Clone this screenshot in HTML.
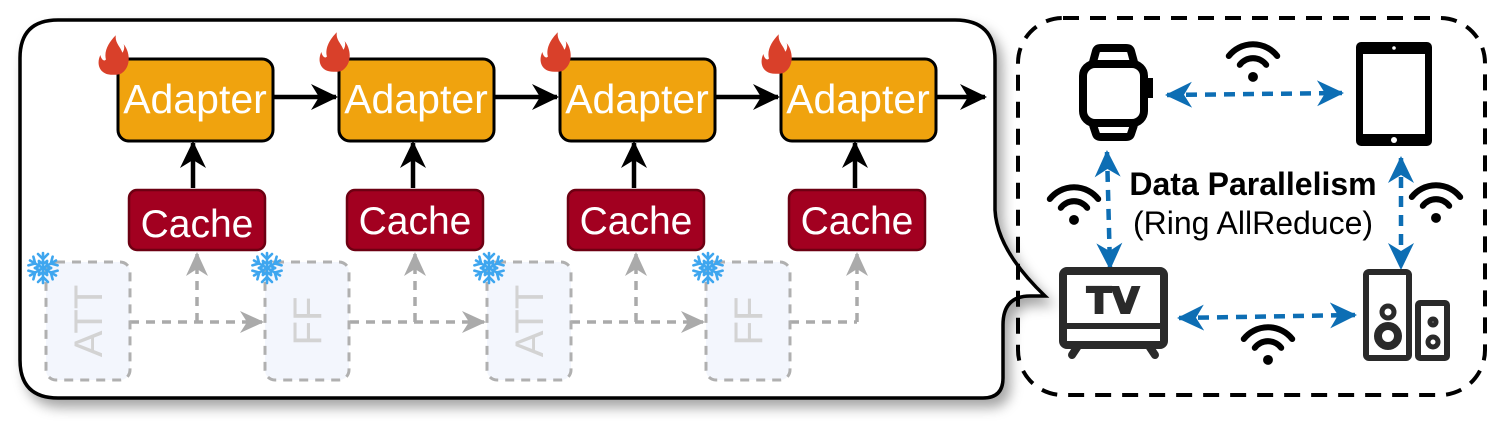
<!DOCTYPE html>
<html><head><meta charset="utf-8"><style>
html,body{margin:0;padding:0;background:#fff}
svg{display:block}
</style></head><body>
<svg width="1495" height="438" viewBox="0 0 1495 438" xmlns="http://www.w3.org/2000/svg" font-family="Liberation Sans, sans-serif">
<defs>
<filter id="sh" x="-5%" y="-5%" width="115%" height="120%"><feDropShadow dx="6" dy="8" stdDeviation="6" flood-color="#000" flood-opacity="0.35"/></filter>
<marker id="ag" markerWidth="26" markerHeight="26" refX="22" refY="13" orient="auto" markerUnits="userSpaceOnUse"><path d="M0,2 L24,13 L0,24 L7,13 Z" fill="#aaa"/></marker>
<marker id="ak" markerWidth="30" markerHeight="30" refX="25" refY="15" orient="auto" markerUnits="userSpaceOnUse"><path d="M0,2 L27,15 L0,28 L8,15 Z" fill="#000"/></marker>
<marker id="au" markerWidth="30" markerHeight="30" refX="25" refY="15" orient="auto-start-reverse" markerUnits="userSpaceOnUse"><path d="M0,2 L27,15 L0,28 L8,15 Z" fill="#0d6eb4"/></marker>
<g id="flame"><path d="M15,38 C3,38 0,28 4,20 C5,25 8,26 9,24 C7,16 12,8 18,2 C17,9 22,12 24,18 C26,15 26,12 25,10 C31,17 32,30 24,36 C22,38 18,38 15,38 Z" fill="#d9402a" transform="scale(1.1)"/></g>
<g id="snow" stroke="#3ea6ef" stroke-width="2.6" stroke-linecap="round" fill="none">
<g id="arm"><line x1="0" y1="0" x2="0" y2="-15"/><polyline points="-5,-14 0,-9 5,-14"/><polyline points="-4,-7 0,-4 4,-7"/></g>
<use href="#arm" transform="rotate(60)"/><use href="#arm" transform="rotate(120)"/><use href="#arm" transform="rotate(180)"/><use href="#arm" transform="rotate(240)"/><use href="#arm" transform="rotate(300)"/></g>
<g id="wifi" fill="none" stroke="#000" stroke-width="5.5" stroke-linecap="round" transform="scale(1.1)"><path d="M-22,-10 A28,28 0 0 1 22,-10"/><path d="M-12,-2 A15,15 0 0 1 12,-2"/><circle cx="0" cy="9" r="4.5" fill="#000" stroke="none"/></g>
</defs>

<path d="M58,20 L955,20 Q995,20 995,60 L995,210 Q997,250 1045,296 L1030,296 Q1003,296 1003,325 L1003,378 Q1003,398 983,398 L58,398 Q20,398 20,360 L20,58 Q20,20 58,20 Z" fill="#fff" stroke="#000" stroke-width="3.5" filter="url(#sh)"/>

<g stroke="#aaa" stroke-width="3.5" fill="none" stroke-dasharray="9,7">
<line x1="130" y1="322" x2="262" y2="322" marker-end="url(#ag)"/><polyline points="197,322 197,254" marker-end="url(#ag)"/>
<line x1="350" y1="322" x2="484" y2="322" marker-end="url(#ag)"/><polyline points="415,322 415,254" marker-end="url(#ag)"/>
<line x1="571" y1="322" x2="703" y2="322" marker-end="url(#ag)"/><polyline points="636,322 636,254" marker-end="url(#ag)"/>
<line x1="790" y1="322" x2="857" y2="322"/><polyline points="857,322 857,254" marker-end="url(#ag)"/>
</g>
<g fill="#f3f6fd" stroke="#b0b0b0" stroke-width="3" stroke-dasharray="9,7">
<rect x="46" y="262" width="84" height="118" rx="10"/>
<rect x="265" y="262" width="84" height="118" rx="10"/>
<rect x="487" y="262" width="84" height="118" rx="10"/>
<rect x="706" y="262" width="84" height="118" rx="10"/>
</g>
<g fill="#d3d3d3" font-size="40" text-anchor="middle">
<text transform="translate(102,321) rotate(-90)">ATT</text>
<text transform="translate(321,321) rotate(-90)">FF</text>
<text transform="translate(543,321) rotate(-90)">ATT</text>
<text transform="translate(762,321) rotate(-90)">FF</text>
</g>
<use href="#snow" x="43" y="268"/><use href="#snow" x="267" y="268"/><use href="#snow" x="489" y="268"/><use href="#snow" x="708" y="268"/>

<g stroke="#000" stroke-width="4.5" fill="none">
<line x1="273" y1="97" x2="336" y2="97" marker-end="url(#ak)"/>
<line x1="494" y1="97" x2="557" y2="97" marker-end="url(#ak)"/>
<line x1="715" y1="97" x2="778" y2="97" marker-end="url(#ak)"/>
<line x1="936" y1="97" x2="985" y2="97" marker-end="url(#ak)"/>
<line x1="193" y1="188" x2="193" y2="143" marker-end="url(#ak)"/>
<line x1="413" y1="188" x2="413" y2="143" marker-end="url(#ak)"/>
<line x1="634" y1="188" x2="634" y2="143" marker-end="url(#ak)"/>
<line x1="855" y1="188" x2="855" y2="143" marker-end="url(#ak)"/>
</g>
<g fill="#f0a30e" stroke="#000" stroke-width="3">
<rect x="118" y="59" width="155" height="82" rx="11"/><rect x="339" y="59" width="155" height="82" rx="11"/>
<rect x="560" y="59" width="155" height="82" rx="11"/><rect x="781" y="59" width="155" height="82" rx="11"/>
</g>
<g fill="#fff" font-size="41" text-anchor="middle">
<text x="195" y="113">Adapter</text><text x="416" y="113">Adapter</text><text x="637" y="113">Adapter</text><text x="858" y="113">Adapter</text>
</g>
<use href="#flame" x="96" y="33"/><use href="#flame" x="317" y="30"/><use href="#flame" x="538" y="30"/><use href="#flame" x="759" y="32"/>
<g fill="#a20020" stroke="#6d0012" stroke-width="2.5">
<rect x="129" y="190" width="136" height="60" rx="8"/><rect x="347" y="190" width="136" height="60" rx="8"/>
<rect x="568" y="190" width="136" height="60" rx="8"/><rect x="789" y="190" width="136" height="60" rx="8"/>
</g>
<g fill="#fff" font-size="39" text-anchor="middle">
<text x="197" y="237">Cache</text><text x="415" y="234">Cache</text><text x="636" y="234">Cache</text><text x="857" y="234">Cache</text>
</g>

<rect x="1018" y="18" width="467" height="377" rx="45" fill="none" stroke="#000" stroke-width="4" stroke-dasharray="16,11"/>

<g stroke="#0d6eb4" stroke-width="4.5" fill="none" stroke-dasharray="11,8">
<line x1="1167" y1="95" x2="1342" y2="93" marker-start="url(#au)" marker-end="url(#au)"/>
<line x1="1107" y1="152" x2="1110" y2="268" marker-start="url(#au)" marker-end="url(#au)"/>
<line x1="1401" y1="158" x2="1401" y2="268" marker-start="url(#au)" marker-end="url(#au)"/>
<line x1="1179" y1="318" x2="1355" y2="315" marker-start="url(#au)" marker-end="url(#au)"/>
</g>
<text x="1253" y="195" font-size="32" font-weight="bold" text-anchor="middle">Data Parallelism</text>
<text x="1253" y="234" font-size="32" text-anchor="middle">(Ring AllReduce)</text>
<use href="#wifi" x="1253" y="67"/><use href="#wifi" x="1074" y="210"/><use href="#wifi" x="1436" y="208"/><use href="#wifi" x="1268" y="350"/>

<g fill="none" stroke="#000" stroke-width="8">
<rect x="1083" y="64" width="61" height="59" rx="12"/>
<path d="M1093,62 L1096,51 Q1097,48 1101,48 L1126,48 Q1130,48 1131,51 L1134,62"/>
<path d="M1093,125 L1096,134 Q1097,137 1101,137 L1126,137 Q1130,137 1131,134 L1134,125"/>
</g>
<rect x="1147" y="78" width="6" height="20" fill="#000"/>
<rect x="1356" y="42" width="76" height="104" rx="5" fill="#000"/>
<rect x="1363" y="54" width="62" height="80" fill="#fff"/>
<circle cx="1394" cy="48" r="1.8" fill="#fff"/><circle cx="1394" cy="140" r="3" fill="#fff"/>
<g fill="none" stroke="#2a2a2a">
<rect x="1063" y="271" width="101" height="74" rx="4" stroke-width="8"/>
<line x1="1063" y1="326" x2="1164" y2="326" stroke-width="6"/>
<line x1="1078" y1="346" x2="1072" y2="355" stroke-width="8" stroke-linecap="round"/>
<line x1="1149" y1="346" x2="1155" y2="355" stroke-width="8" stroke-linecap="round"/>
</g>
<text x="1113" y="313" font-size="36" font-weight="bold" font-family="DejaVu Sans, sans-serif" fill="#2a2a2a" text-anchor="middle" stroke="#2a2a2a" stroke-width="2">TV</text>
<g fill="none" stroke="#2a2a2a" stroke-width="6">
<rect x="1366" y="272" width="43" height="86" rx="3"/>
<rect x="1418" y="303" width="29" height="55" rx="2"/>
<circle cx="1388" cy="312" r="6" stroke-width="5"/>
<circle cx="1388" cy="336" r="10" stroke-width="8"/>
<circle cx="1433" cy="322" r="3" stroke-width="5"/>
<circle cx="1433" cy="342" r="5" stroke-width="5"/>
</g>
</svg>
</body></html>
